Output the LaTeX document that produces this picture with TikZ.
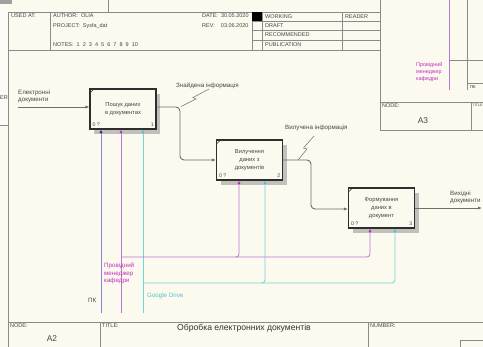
\documentclass[tikz,border=0pt]{standalone}
\usepackage{fontspec}
\setmainfont{Liberation Sans}
\usetikzlibrary{arrows.meta,shadows}
\definecolor{paper}{HTML}{FCF9EE}
\definecolor{paperlight}{HTML}{FDFBF4}
\definecolor{frameline}{HTML}{8A8A8A}
\definecolor{arrowline}{HTML}{6E6E6E}
\definecolor{boxline}{HTML}{2E2E2E}
\definecolor{shadowgray}{HTML}{C2C0BA}
\definecolor{inktext}{HTML}{454545}
\definecolor{pcline}{HTML}{8C86D2}
\definecolor{pctip}{HTML}{24237E}
\definecolor{mgrline}{HTML}{B779CF}
\definecolor{mgrtip}{HTML}{C02EB8}
\definecolor{mgrtext}{HTML}{C12FC0}
\definecolor{gdline}{HTML}{6FD6D6}
\definecolor{gdtip}{HTML}{3CC8D0}
\definecolor{gdtext}{HTML}{4CC4CC}
\tikzset{
  frame/.style={draw=frameline, line width=0.6pt},
  hdr/.style={anchor=west, inner sep=0pt, text=inktext, font=\fontsize{5.5}{6}\selectfont},
  lbl/.style={anchor=west, inner sep=0pt, text=inktext, font=\fontsize{6.2}{7.6}\selectfont, align=left},
  func/.style={draw=boxline, line width=1.1pt, fill=paper, minimum width=66pt, minimum height=40pt,
    align=center, inner sep=0pt, text=inktext, font=\fontsize{5.8}{7.8}\selectfont,
    drop shadow={shadow xshift=4pt, shadow yshift=-5pt, fill=shadowgray, opacity=1}},
  flow/.style={draw=arrowline, line width=0.9pt, rounded corners=4pt,
    -{Latex[length=4pt,width=3.2pt]}},
  squig/.style={draw=arrowline, line width=0.5pt},
  pcarrow/.style={draw=pcline, line width=0.8pt, -{Latex[length=3.5pt,width=3pt,color=pctip]}},
  mgrarrow/.style={draw=mgrline, line width=0.8pt, rounded corners=3pt, -{Latex[length=3.5pt,width=3pt,color=mgrtip]}},
  gdarrow/.style={draw=gdline, line width=0.8pt, rounded corners=3pt, -{Latex[length=3.5pt,width=3pt,color=gdtip]}},
  corner/.style={draw=boxline, line width=0.5pt},
}
\begin{document}
\begin{tikzpicture}[x=1pt,y=-1pt]
\useasboundingbox (0,0) rectangle (483,347);
\fill[paper] (0,0) rectangle (483,347);

% window behind, on the left
\fill[paperlight] (0,0) rectangle (8,125);
\draw[frame] (0,125) -- (8,125);
\fill[frameline!80] (0,0) rectangle (12,4);
\node[hdr] at (0,98) {ER};
\draw[frame] (108,0) -- (108,12);

% ---- header of the A2 sheet ----
\draw[frame] (8,347) -- (8,12) -- (380,12);
\draw[frame] (8,50) -- (380,50);
\draw[frame] (50,12) -- (50,50);
\draw[frame] (252,12) -- (252,50);
\draw[frame] (262,12) -- (262,50);
\draw[frame] (342,12) -- (342,50);
\foreach \yy in {21,30,40} \draw[frame] (252,\yy) -- (380,\yy);
\fill[black] (252,12) rectangle (262,21);
\node[hdr] at (11,16) {USED AT:};
\node[hdr] at (53,16) {AUTHOR:\ \ OLIA};
\node[hdr] at (53,26) {PROJECT:\ \ Sysfa\_dat};
\node[hdr] at (53,45) {NOTES:\ \ 1\ \ 2\ \ 3\ \ 4\ \ 5\ \ 6\ \ 7\ \ 8\ \ 9\ \ 10};
\node[hdr] at (202,16) {DATE:\ \ 30.05.2020};
\node[hdr] at (202,26) {REV:\ \ \ \ 03.06.2020};
\node[hdr] at (265,16.5) {WORKING};
\node[hdr] at (265,26) {DRAFT};
\node[hdr] at (265,35) {RECOMMENDED};
\node[hdr] at (265,44.5) {PUBLICATION};
\node[hdr] at (345,16.5) {READER};

% ---- A3 window in the upper right ----
\fill[paper] (380,0) rectangle (483,130);
\draw[frame] (380,0) -- (380,130);
\draw[draw=mgrline, line width=0.8pt] (449,0) -- (449,90);
\draw[frame] (467,0) -- (467,90);
\draw[frame] (449,60) -- (483,60);
\draw[frame] (467,83) -- (483,83);
\node[hdr] at (470,87.5) {пк};
\node[lbl, text=mgrtext, font=\fontsize{5.4}{7.4}\selectfont] at (416,72) {Провідний\\менеджер\\кафедри};
\draw[frame] (380,102) -- (483,102);
\draw[frame] (380,130) -- (483,130);
\draw[frame] (471,102) -- (471,130);
\node[hdr] at (382,105.5) {NODE:};
\node[hdr, font=\fontsize{3.6}{4}\selectfont] at (472.5,105.5) {TITLE:};
\node[anchor=center, inner sep=0pt, text=inktext, font=\fontsize{8.4}{9}\selectfont] at (423,121) {A3};

% ---- activity boxes ----
\node[func] (b1) at (123,109) {Пошук даних\\в документах};
\node[func] (b2) at (249.5,160) {Вилучення\\даних з\\документів};
\node[func] (b3) at (381.5,208) {Формування\\даних в\\документ};

\foreach \b/\n in {b1/1,b2/2,b3/3}{
  \node[hdr, font=\fontsize{5.2}{5}\selectfont] at ([xshift=3pt,yshift=5pt]\b.south west) {0 ?};
  \node[hdr, anchor=east, font=\fontsize{5.2}{5}\selectfont] at ([xshift=-2.5pt,yshift=5pt]\b.south east) {\n};
  \draw[corner] ([xshift=1pt,yshift=-4pt]\b.north west) -- ([xshift=4pt,yshift=-1pt]\b.north west);
}

% ---- inputs and outputs ----
\coordinate (inp) at (18,107);
\coordinate (outp) at (482,208);
\draw[flow] (inp) -- ([yshift=2pt]b1.west);
\node[lbl] at (18,96.5) {Електронні\\документи};

\draw[flow] ([yshift=2pt]b1.east) -- (180,107) -- (180,160) -- (b2.west);
\draw[flow] (b2.east) -- (311,160) -- (311,209) -- ([yshift=-1pt]b3.west);
\draw[flow] (b3.east) -- (outp);
\node[lbl] at (450,197.5) {Вихідні\\документи};

% arrow labels with squiggles
\node[lbl] (l1) at (176,86) {Знайдена інформація};
\draw[squig] (181,106.5) -- (196,99) -- (193,97.5) -- (209,89);
\node[lbl] (l2) at (285,127.5) {Вилучена інформація};
\draw[squig] (298,160) -- (307,149) -- (303.5,148) -- (314,136);

% ---- mechanisms ----
\coordinate (mpc) at (101,313);
\coordinate (mmg) at (121,313);
\coordinate (mgd) at (143,313);
\coordinate (jmg) at (121,257);
\coordinate (jgd) at (143,283);

\draw[pcarrow] (mpc) -- ([xshift=-22pt]b1.south);
\draw[mgrarrow] (mmg) -- ([xshift=-2pt]b1.south);
\draw[gdarrow] (mgd) -- ([xshift=20pt]b1.south);

\draw[mgrarrow] (jmg) -- ([xshift=-11.5pt]b3.south |- jmg) -- ([xshift=-11.5pt]b3.south);
\draw[mgrarrow] ([xshift=-14pt]b2.south |- jmg) -- ([xshift=-10.5pt]b2.south |- jmg) -- ([xshift=-10.5pt]b2.south);
\draw[gdarrow] (jgd) -- ([xshift=13.5pt]b3.south |- jgd) -- ([xshift=13.5pt]b3.south);
\draw[gdarrow] ([xshift=12pt]b2.south |- jgd) -- ([xshift=15.5pt]b2.south |- jgd) -- ([xshift=15.5pt]b2.south);

\node[lbl] at (88,300) {ПК};
\node[lbl, text=mgrtext] at (104,273.5) {Провідний\\менеджер\\кафедри};
\node[lbl, text=gdtext] at (147,296) {Google Drive};

% ---- footer of the A2 sheet ----
\draw[frame] (8,322) -- (483,322);
\draw[frame] (100,322) -- (100,347);
\draw[frame] (368,322) -- (368,347);
\draw[frame] (460,347) -- (460,340) -- (483,340);
\node[hdr] at (10,326) {NODE:};
\node[hdr] at (102,326) {TITLE:};
\node[hdr] at (370,326) {NUMBER:};
\node[anchor=center, inner sep=0pt, text=inktext, font=\fontsize{8.4}{9}\selectfont] at (52,339) {A2};
\node[anchor=center, inner sep=0pt, text=black!80, font=\fontsize{8.6}{10}\selectfont] at (244,328) {Обробка електронних документів};
\end{tikzpicture}
\end{document}
